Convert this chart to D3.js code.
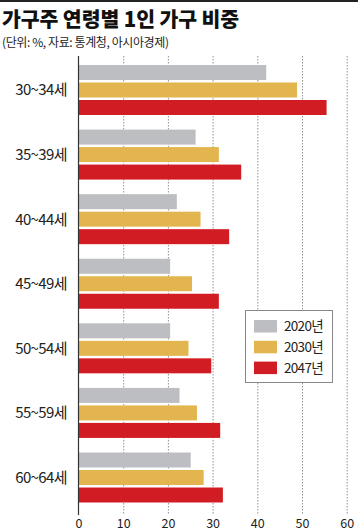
<!DOCTYPE html>
<html><head><meta charset="utf-8">
<script src="https://cdn.jsdelivr.net/npm/d3@7"></script>
<style>
html,body{margin:0;padding:0;background:#fff;}
svg{display:block;font-family:"Noto Sans CJK KR","Noto Sans",sans-serif;}
</style></head>
<body>
<svg id="c" width="358" height="531"></svg>
<script>
const categories = ["30~34세","35~39세","40~44세","45~49세","50~54세","55~59세","60~64세"];
const seriesNames = ["2020년","2030년","2047년"];
const v2020 = [42.0, 26.2, 22.0, 20.5, 20.5, 22.6, 25.1];
const v2030 = [48.9, 31.4, 27.3, 25.4, 24.6, 26.5, 28.0];
const v2047 = [55.5, 36.4, 33.7, 31.4, 29.7, 31.7, 32.3];
const xTicks = [0,10,20,30,40,50,60];
const colors = ["#bdbec2","#e2b54e","#d21c24"];
const seriesValues = [v2020, v2030, v2047];

const svg = d3.select("#c");
const W = 358, H = 531;

// top rule
svg.append("rect").attr("x",0).attr("y",0).attr("width",W).attr("height",2).attr("fill","#222");

svg.append("text").attr("x",2).attr("y",27)
  .attr("font-size",20.5).attr("font-weight",900).attr("letter-spacing",-0.1).attr("fill","#111")
  .text("가구주 연령별 1인 가구 비중");
svg.append("text").attr("x",2).attr("y",47)
  .attr("font-size",12).attr("letter-spacing",-0.4).attr("fill","#222")
  .text("(단위: %, 자료: 통계청, 아시아경제)");

const x = d3.scaleLinear().domain([0,60]).range([78.5,346.7]);
const y = d3.scaleBand().domain(categories).range([57.7,509.8]).paddingInner(0.226).paddingOuter(0.113);
const yi = d3.scaleBand().domain(seriesNames).range([0,y.bandwidth()]).paddingInner(0.143).paddingOuter(0);

const gTop = 56, gBot = 515;
// grid lines
svg.append("g").selectAll("line").data(xTicks.filter(d=>d>0)).join("line")
  .attr("x1",d=>x(d)+0.5).attr("x2",d=>x(d)+0.5).attr("y1",gTop).attr("y2",gBot)
  .attr("stroke","#777").attr("stroke-width",0.8).attr("stroke-dasharray","1.5,1.5");

// bars
const groups = svg.append("g").selectAll("g").data(categories).join("g")
  .attr("transform",d=>`translate(0,${y(d)})`);
groups.selectAll("rect").data((d,i)=>seriesNames.map((s,j)=>({s, v:seriesValues[j][i], c:colors[j]}))).join("rect")
  .attr("x",x(0)).attr("y",d=>yi(d.s)).attr("height",yi.bandwidth())
  .attr("width",d=>x(d.v)-x(0)).attr("fill",d=>d.c);

// axis line
svg.append("line").attr("x1",x(0)).attr("x2",x(0)).attr("y1",gTop).attr("y2",gBot)
  .attr("stroke","#333").attr("stroke-width",1.2);

// category labels
svg.append("g").selectAll("text").data(categories).join("text")
  .attr("x",67).attr("y",d=>y(d)+y.bandwidth()/2+5.5)
  .attr("text-anchor","end").attr("font-size",15).attr("letter-spacing",-0.6).attr("fill","#222")
  .text(d=>d);

// x tick labels
const xAxis = d3.axisBottom(x).tickValues(xTicks).tickSize(0).tickPadding(0);
const ax = svg.append("g").attr("transform","translate(0,519)").call(xAxis);
ax.select(".domain").remove();
ax.selectAll("text").attr("font-size",12.5).attr("fill","#222").attr("font-family","'Noto Sans CJK KR',sans-serif").attr("dy","0.71em");

// legend
const lg = svg.append("g").attr("transform","translate(245,310)");
lg.append("rect").attr("x",0.5).attr("y",0.5).attr("width",87).attr("height",72)
  .attr("fill","#fff").attr("stroke","#888").attr("stroke-width",1);
seriesNames.forEach((s,j)=>{
  lg.append("rect").attr("x",9).attr("y",10+j*20.8).attr("width",23).attr("height",12.5).attr("fill",colors[j]);
  lg.append("text").attr("x",39).attr("y",21+j*20.8).attr("font-size",13.5).attr("letter-spacing",-0.7).attr("fill","#222").text(s);
});
</script>
</body></html>
